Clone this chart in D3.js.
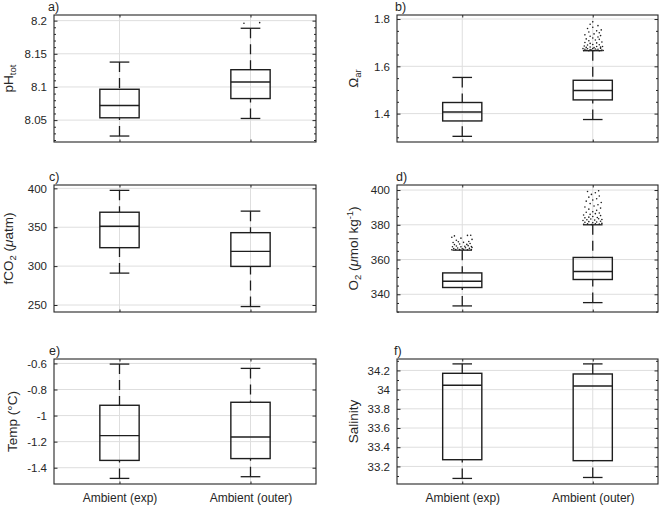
<!DOCTYPE html>
<html>
<head>
<meta charset="utf-8">
<script src="https://cdn.jsdelivr.net/npm/d3@7/dist/d3.min.js"></script>
<style>
  html, body { margin: 0; padding: 0; background: #fff; }
  svg { display: block; }
  text { font-family: "Liberation Sans", Arial, Helvetica, sans-serif; fill: #262626; }
</style>
</head>
<body>
<svg id="chart" width="660" height="505"></svg>
<script>
// ---------------- DATA ----------------
const categories = ["Ambient (exp)", "Ambient (outer)"];
const panelTags = ["a)", "b)", "c)", "d)", "e)", "f)"];

// box statistics: [lower whisker, Q1, median, Q3, upper whisker]
const phExp      = [8.026, 8.0535, 8.072, 8.0965, 8.1375];
const phOuter    = [8.0525, 8.0825, 8.1075, 8.126, 8.1885];
const omegaExp   = [1.304, 1.369, 1.407, 1.447, 1.553];
const omegaOuter = [1.375, 1.458, 1.498, 1.541, 1.666];
const fco2Exp    = [291, 323.7, 351.3, 369.3, 397.4];
const fco2Outer  = [248, 299.6, 319, 343, 370.7];
const o2Exp      = [333.3, 343.9, 347.5, 352.3, 365.4];
const o2Outer    = [335.2, 348.5, 353.1, 361.2, 380];
const tempExp    = [-1.482, -1.344, -1.154, -0.921, -0.605];
const tempOuter  = [-1.469, -1.33, -1.164, -0.898, -0.638];
const salExp     = [33.075, 33.27, 34.045, 34.17, 34.268];
const salOuter   = [33.085, 33.26, 34.038, 34.163, 34.268];

// outliers: [horizontal jitter (category units), value]
const phOuterOut = [[-0.05, 8.196], [0.07, 8.197]];
const omegaOuterOut = [
  [-0.07,1.667],[-0.05,1.668],[-0.03,1.666],[-0.01,1.669],[0.01,1.667],[0.03,1.668],[0.05,1.666],[0.07,1.669],[0.08,1.667],
  [-0.06,1.672],[-0.04,1.674],[-0.02,1.671],[0.0,1.675],[0.02,1.673],[0.04,1.672],[0.06,1.676],[-0.075,1.675],
  [-0.05,1.680],[-0.02,1.682],[0.01,1.679],[0.03,1.684],[0.06,1.681],[-0.065,1.686],[0.075,1.684],
  [-0.04,1.690],[0.0,1.692],[0.05,1.691],[-0.02,1.697],[0.03,1.699],[-0.06,1.701],[0.07,1.703],
  [-0.03,1.708],[0.02,1.711],[0.05,1.714],[-0.05,1.716],[0.0,1.72],[0.04,1.724],[-0.02,1.727],[0.06,1.73],
  [-0.06,1.733],[0.01,1.737],[0.05,1.742],[-0.03,1.745],[0.03,1.75],[0.065,1.754],[-0.04,1.76],[0.0,1.765],
  [0.04,1.772],[-0.02,1.778],[0.0,1.788]
];
const o2ExpOut = [
  [-0.08,365.6],[-0.05,365.8],[-0.02,365.7],[0.01,365.9],[0.04,365.6],[0.07,365.8],[-0.065,366.3],[-0.035,366.6],
  [0.0,366.2],[0.025,366.8],[0.055,366.4],[0.075,366.9],[-0.075,367.4],[-0.045,367.8],[-0.01,367.3],[0.02,367.6],
  [0.045,368.0],[0.07,367.5],[-0.06,368.6],[-0.02,368.9],[0.035,368.7],[0.06,369.2],[-0.07,369.8],[-0.03,370.2],
  [0.01,369.9],[0.05,370.4],[-0.045,371.1],[0.075,371.6],[-0.08,372.8],[-0.01,372.3],[0.04,373.9],[-0.06,373.6],[0.065,374.0]
];
const o2OuterOut = [
  [-0.07,380.3],[-0.04,380.5],[-0.01,380.2],[0.02,380.6],[0.05,380.4],[0.07,380.8],[-0.06,381.4],[-0.03,381.8],
  [0.0,381.2],[0.03,381.6],[0.06,382.0],[-0.075,382.5],[-0.045,382.9],[-0.015,383.3],[0.015,382.7],[0.045,383.5],
  [0.07,383.0],[-0.06,384.0],[-0.03,384.4],[0.0,384.8],[0.035,384.2],[0.06,385.3],[-0.07,385.6],[-0.02,386.0],
  [0.02,386.4],[0.05,386.8],[-0.05,387.2],[0.0,387.5],[0.03,388.3],[-0.03,389.0],[0.06,389.6],[-0.06,390.2],
  [0.01,390.8],[0.04,391.5],[-0.02,392.2],[0.065,392.8],[-0.05,393.6],[0.0,394.3],[0.03,395.0],[-0.03,395.9],
  [0.05,396.6],[-0.01,397.5],[0.02,398.4],[-0.04,399.2],[0.045,399.6]
];

// axis limits and ticks
const phLim = [8.017, 8.2085],     phTicks = [8.05, 8.1, 8.15, 8.2],            phMinor = 0.01;
const omegaLim = [1.28, 1.817],    omegaTicks = [1.4, 1.6, 1.8],                omegaMinor = 0.05;
const fco2Lim = [241, 404.3],      fco2Ticks = [250, 300, 350, 400],            fco2Minor = 0;
const o2Lim = [329.8, 402.9],      o2Ticks = [340, 360, 380, 400],              o2Minor = 5;
const tempLim = [-1.525, -0.566],  tempTicks = [-1.4, -1.2, -1, -0.8, -0.6],    tempMinor = 0;
const salLim = [33.017, 34.319],   salTicks = [33.2, 33.4, 33.6, 33.8, 34, 34.2], salMinor = 0.1;

// ---------------- LAYOUT ----------------
const colX = [[54, 316], [397, 658]];
const rowY = [[15, 142], [185, 312], [359, 484]];
const tagPos = [[48, 11], [395, 11], [49, 181], [396, 181], [49, 355], [394, 355]];
const labelX = [12.6, 357.5, 12.8, 357.5, 16.6, 357.5];

const panels = [
  { stats: [phExp, phOuter], out: [[], phOuterOut], lim: phLim, ticks: phTicks, minor: phMinor,
    label: [["pH", ""], ["tot", "sub"]] },
  { stats: [omegaExp, omegaOuter], out: [[], omegaOuterOut], lim: omegaLim, ticks: omegaTicks, minor: omegaMinor,
    label: [["Ω", ""], ["ar", "sub"]] },
  { stats: [fco2Exp, fco2Outer], out: [[], []], lim: fco2Lim, ticks: fco2Ticks, minor: fco2Minor,
    label: [["fCO", ""], ["2", "sub"], [" (", ""], ["μ", "it"], ["atm)", ""]] },
  { stats: [o2Exp, o2Outer], out: [o2ExpOut, o2OuterOut], lim: o2Lim, ticks: o2Ticks, minor: o2Minor,
    label: [["O", ""], ["2", "sub"], [" (", ""], ["μ", "it"], ["mol kg", ""], ["-1", "sup"], [")", ""]] },
  { stats: [tempExp, tempOuter], out: [[], []], lim: tempLim, ticks: tempTicks, minor: tempMinor,
    label: [["Temp (°C)", ""]] },
  { stats: [salExp, salOuter], out: [[], []], lim: salLim, ticks: salTicks, minor: salMinor,
    label: [["Salinity", ""]] }
];

const svg = d3.select("#chart");
const INK = "#262626", BOXC = "#1e1e1e", GRID = "#dedede";
const fmt = v => String(+v.toFixed(4));

panels.forEach((p, i) => {
  const col = i % 2, row = Math.floor(i / 2);
  const [x0, x1] = colX[col], [y0, y1] = rowY[row];
  const x = d3.scaleLinear().domain([0.5, 2.5]).range([x0, x1]);
  const y = d3.scaleLinear().domain(p.lim).range([y1, y0]);
  const g = svg.append("g");

  // grid
  g.selectAll(".hg").data(p.ticks).join("line")
    .attr("x1", x0).attr("x2", x1).attr("y1", d => y(d)).attr("y2", d => y(d))
    .attr("stroke", GRID).attr("stroke-width", 1);
  g.selectAll(".vg").data([1, 2]).join("line")
    .attr("x1", d => x(d)).attr("x2", d => x(d)).attr("y1", y0).attr("y2", y1)
    .attr("stroke", GRID).attr("stroke-width", 1);

  // minor ticks
  let minorVals = [];
  if (p.minor > 0) {
    const n0 = Math.ceil(p.lim[0] / p.minor - 1e-6), n1 = Math.floor(p.lim[1] / p.minor + 1e-6);
    for (let k = n0; k <= n1; k++) {
      const v = k * p.minor;
      if (!p.ticks.some(t => Math.abs(t - v) < p.minor * 0.01)) minorVals.push(v);
    }
  }
  const styleAxis = sel => {
    sel.select(".domain").remove();
    sel.selectAll(".tick line").attr("stroke", INK).attr("stroke-width", 1);
    sel.selectAll("text").style("font-size", "11.5px").attr("fill", INK);
  };
  g.append("g").attr("transform", `translate(${x0},0)`)
    .call(d3.axisLeft(y).tickValues(p.ticks).tickSize(-3.5).tickPadding(7).tickFormat(fmt)).call(styleAxis);
  g.append("g").attr("transform", `translate(${x0},0)`)
    .call(d3.axisLeft(y).tickValues(minorVals).tickSize(-2).tickFormat("")).call(styleAxis);
  g.append("g").attr("transform", `translate(${x1},0)`)
    .call(d3.axisRight(y).tickValues(p.ticks).tickSize(-3.5).tickFormat("")).call(styleAxis);
  g.append("g").attr("transform", `translate(${x1},0)`)
    .call(d3.axisRight(y).tickValues(minorVals).tickSize(-2).tickFormat("")).call(styleAxis);
  const bottom = g.append("g").attr("transform", `translate(0,${y1})`)
    .call(d3.axisBottom(x).tickValues([1, 2]).tickSize(-2.5).tickPadding(9)
      .tickFormat(d => row === 2 ? categories[d - 1] : "")).call(styleAxis);
  bottom.selectAll("text").style("font-size", "12px");
  g.append("g").attr("transform", `translate(0,${y0})`)
    .call(d3.axisTop(x).tickValues([1, 2]).tickSize(-2.5).tickFormat("")).call(styleAxis);

  // frame
  g.append("rect").attr("x", x0).attr("y", y0).attr("width", x1 - x0).attr("height", y1 - y0)
    .attr("fill", "none").attr("stroke", INK).attr("stroke-width", 1.1);

  // boxes
  const hw = 0.15, cw = 0.075;
  p.stats.forEach((s, j) => {
    const c = j + 1;
    const bg = g.append("g").attr("stroke", BOXC).attr("fill", "none");
    // whiskers (dashed)
    [[s[4], s[3]], [s[0], s[1]]].forEach(([a, b]) => {
      bg.append("line").attr("x1", x(c)).attr("x2", x(c)).attr("y1", y(a)).attr("y2", y(b))
        .attr("stroke-width", 1.3).attr("stroke-dasharray", "10,6");
    });
    // caps
    [s[0], s[4]].forEach(v => {
      bg.append("line").attr("x1", x(c - cw)).attr("x2", x(c + cw)).attr("y1", y(v)).attr("y2", y(v))
        .attr("stroke-width", 1.3);
    });
    // box
    bg.append("rect").attr("x", x(c - hw)).attr("y", y(s[3]))
      .attr("width", x(c + hw) - x(c - hw)).attr("height", y(s[1]) - y(s[3]))
      .attr("stroke-width", 1.4);
    // median
    bg.append("line").attr("x1", x(c - hw)).attr("x2", x(c + hw)).attr("y1", y(s[2])).attr("y2", y(s[2]))
      .attr("stroke-width", 1.4);
    // outliers
    g.selectAll(null).data(p.out[j]).join("circle")
      .attr("cx", d => x(c + d[0])).attr("cy", d => y(d[1])).attr("r", 0.8).attr("fill", BOXC);
  });

  // panel tag
  svg.append("text").attr("x", tagPos[i][0]).attr("y", tagPos[i][1])
    .style("font-size", "12.5px").attr("fill", "#000").text(panelTags[i]);

  // y label
  const lt = svg.append("text")
    .attr("transform", `translate(${labelX[i]},${(y0 + y1) / 2}) rotate(-90)`)
    .attr("text-anchor", "middle").style("font-size", "13.5px").attr("fill", INK);
  let shift = 0;
  p.label.forEach(([t, kind]) => {
    const ts = lt.append("tspan").text(t);
    let target = 0;
    if (kind === "sub") { target = 3.5; ts.style("font-size", "9.5px"); }
    else if (kind === "sup") { target = -5; ts.style("font-size", "9.5px"); }
    else if (kind === "it") { ts.style("font-style", "italic"); }
    ts.attr("dy", target - shift);
    shift = target;
  });
});
</script>
</body>
</html>
